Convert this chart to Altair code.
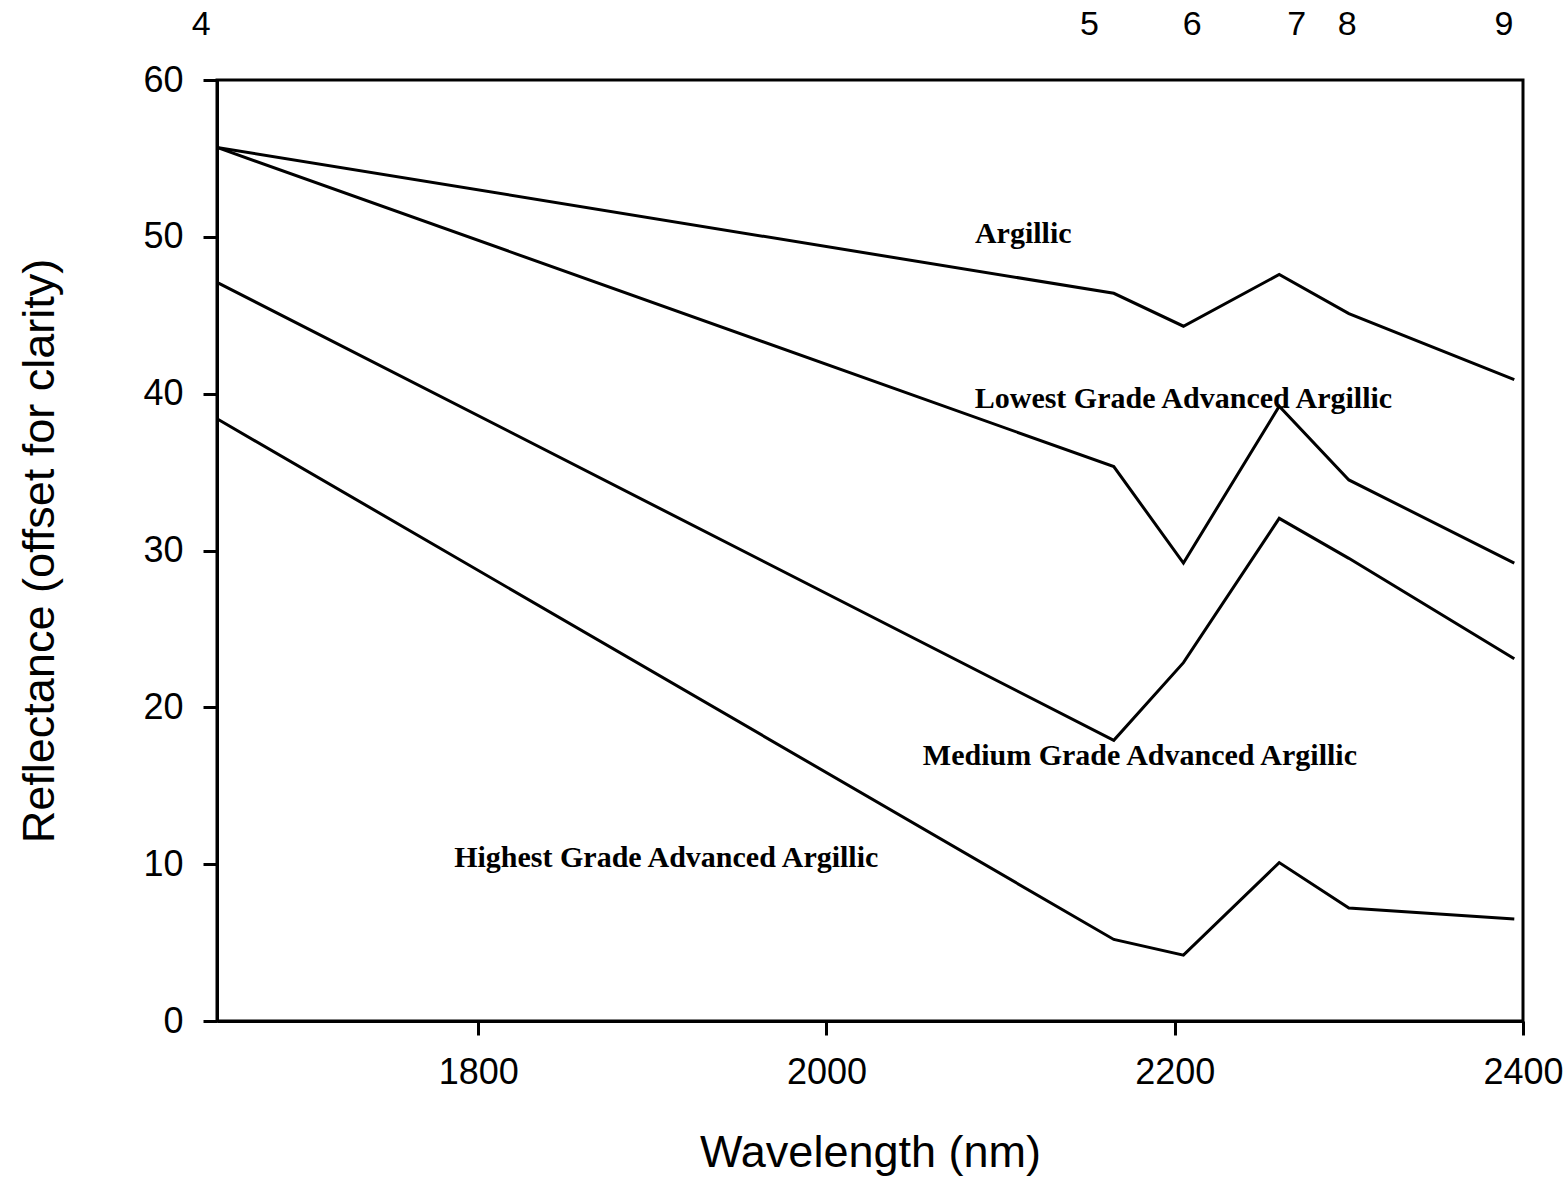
import altair as alt
import pandas as pd

# Band-centre wavelengths (nm) at which the spectra are sampled
wavelength = [1650, 2165, 2205, 2260, 2300, 2395]

# Reflectance (offset for clarity) for each alteration class
argillic = [55.7, 46.4, 44.3, 47.6, 45.1, 40.9]
lowest_grade = [55.7, 35.35, 29.2, 39.2, 34.5, 29.2]
medium_grade = [47.1, 17.9, 22.85, 32.05, 29.5, 23.1]
highest_grade = [38.4, 5.2, 4.2, 10.1, 7.2, 6.5]

series_names = [
    "Argillic",
    "Lowest Grade Advanced Argillic",
    "Medium Grade Advanced Argillic",
    "Highest Grade Advanced Argillic",
]
series_values = [argillic, lowest_grade, medium_grade, highest_grade]

# Label placement for each curve (wavelength, reflectance)
label_x = [2113, 2205, 2180, 1908]
label_y = [49.6, 39.1, 16.3, 9.8]

# Band numbers along the top of the plot
band_numbers = ["4", "5", "6", "7", "8", "9"]
band_label_x = [1641, 2151, 2210, 2270, 2299, 2389]

rows = []
for name, vals in zip(series_names, series_values):
    for i, (w, v) in enumerate(zip(wavelength, vals)):
        rows.append({"series": name, "wavelength": w, "reflectance": v, "order": i})
lines_df = pd.DataFrame(rows)
labels_df = pd.DataFrame({"text": series_names, "x": label_x, "y": label_y})
bands_df = pd.DataFrame({"band": band_numbers, "x": band_label_x})

AXIS_FONT = "Liberation Sans"
LABEL_FONT = "Liberation Serif"

x_scale = alt.Scale(domain=[1650, 2400], nice=False, zero=False)
y_scale = alt.Scale(domain=[0, 60], nice=False)

x_axis = alt.Axis(
    title="Wavelength (nm)",
    values=[1800, 2000, 2200, 2400],
    format="d",
    grid=False,
    domainColor="black",
    domainWidth=3,
    tickColor="black",
    tickWidth=3,
    tickSize=14,
    labelFont=AXIS_FONT,
    labelFontSize=36,
    labelColor="black",
    labelPadding=20,
    labelFlush=False,
    labelOverlap=False,
    titleFont=AXIS_FONT,
    titleFontSize=45,
    titleFontWeight="normal",
    titleColor="black",
    titlePadding=40,
)
y_axis = alt.Axis(
    title="Reflectance (offset for clarity)",
    values=[0, 10, 20, 30, 40, 50, 60],
    grid=False,
    domainColor="black",
    domainWidth=3,
    tickColor="black",
    tickWidth=3,
    tickSize=14,
    labelFont=AXIS_FONT,
    labelFontSize=36,
    labelColor="black",
    labelPadding=20,
    labelFlush=False,
    labelOverlap=False,
    titleFont=AXIS_FONT,
    titleFontSize=45,
    titleFontWeight="normal",
    titleColor="black",
    titlePadding=80,
)

lines = (
    alt.Chart(lines_df)
    .mark_line(color="black", strokeWidth=3)
    .encode(
        x=alt.X("wavelength:Q", scale=x_scale, axis=x_axis),
        y=alt.Y("reflectance:Q", scale=y_scale, axis=y_axis),
        detail="series:N",
        order="order:Q",
    )
)

curve_labels = (
    alt.Chart(labels_df)
    .mark_text(
        font=LABEL_FONT,
        fontSize=30,
        fontWeight="bold",
        color="black",
        align="center",
        baseline="alphabetic",
    )
    .encode(
        x=alt.X("x:Q", scale=x_scale),
        y=alt.Y("y:Q", scale=y_scale),
        text="text:N",
    )
)

band_labels = (
    alt.Chart(bands_df)
    .mark_text(
        font=AXIS_FONT,
        fontSize=34,
        color="black",
        align="center",
        baseline="alphabetic",
    )
    .encode(
        x=alt.X("x:Q", scale=x_scale),
        y=alt.value(-45),
        text="band:N",
    )
)

chart = (
    alt.layer(lines, curve_labels, band_labels)
    .properties(
        width=1306,
        height=941,
        autosize=alt.AutoSizeParams(type="none"),
        padding={"left": 217, "top": 80, "right": 43, "bottom": 158},
        background="white",
    )
    .configure_view(stroke="black", strokeWidth=3)
)

chart.save("out.html", embed_options={"renderer": "svg", "actions": False})
